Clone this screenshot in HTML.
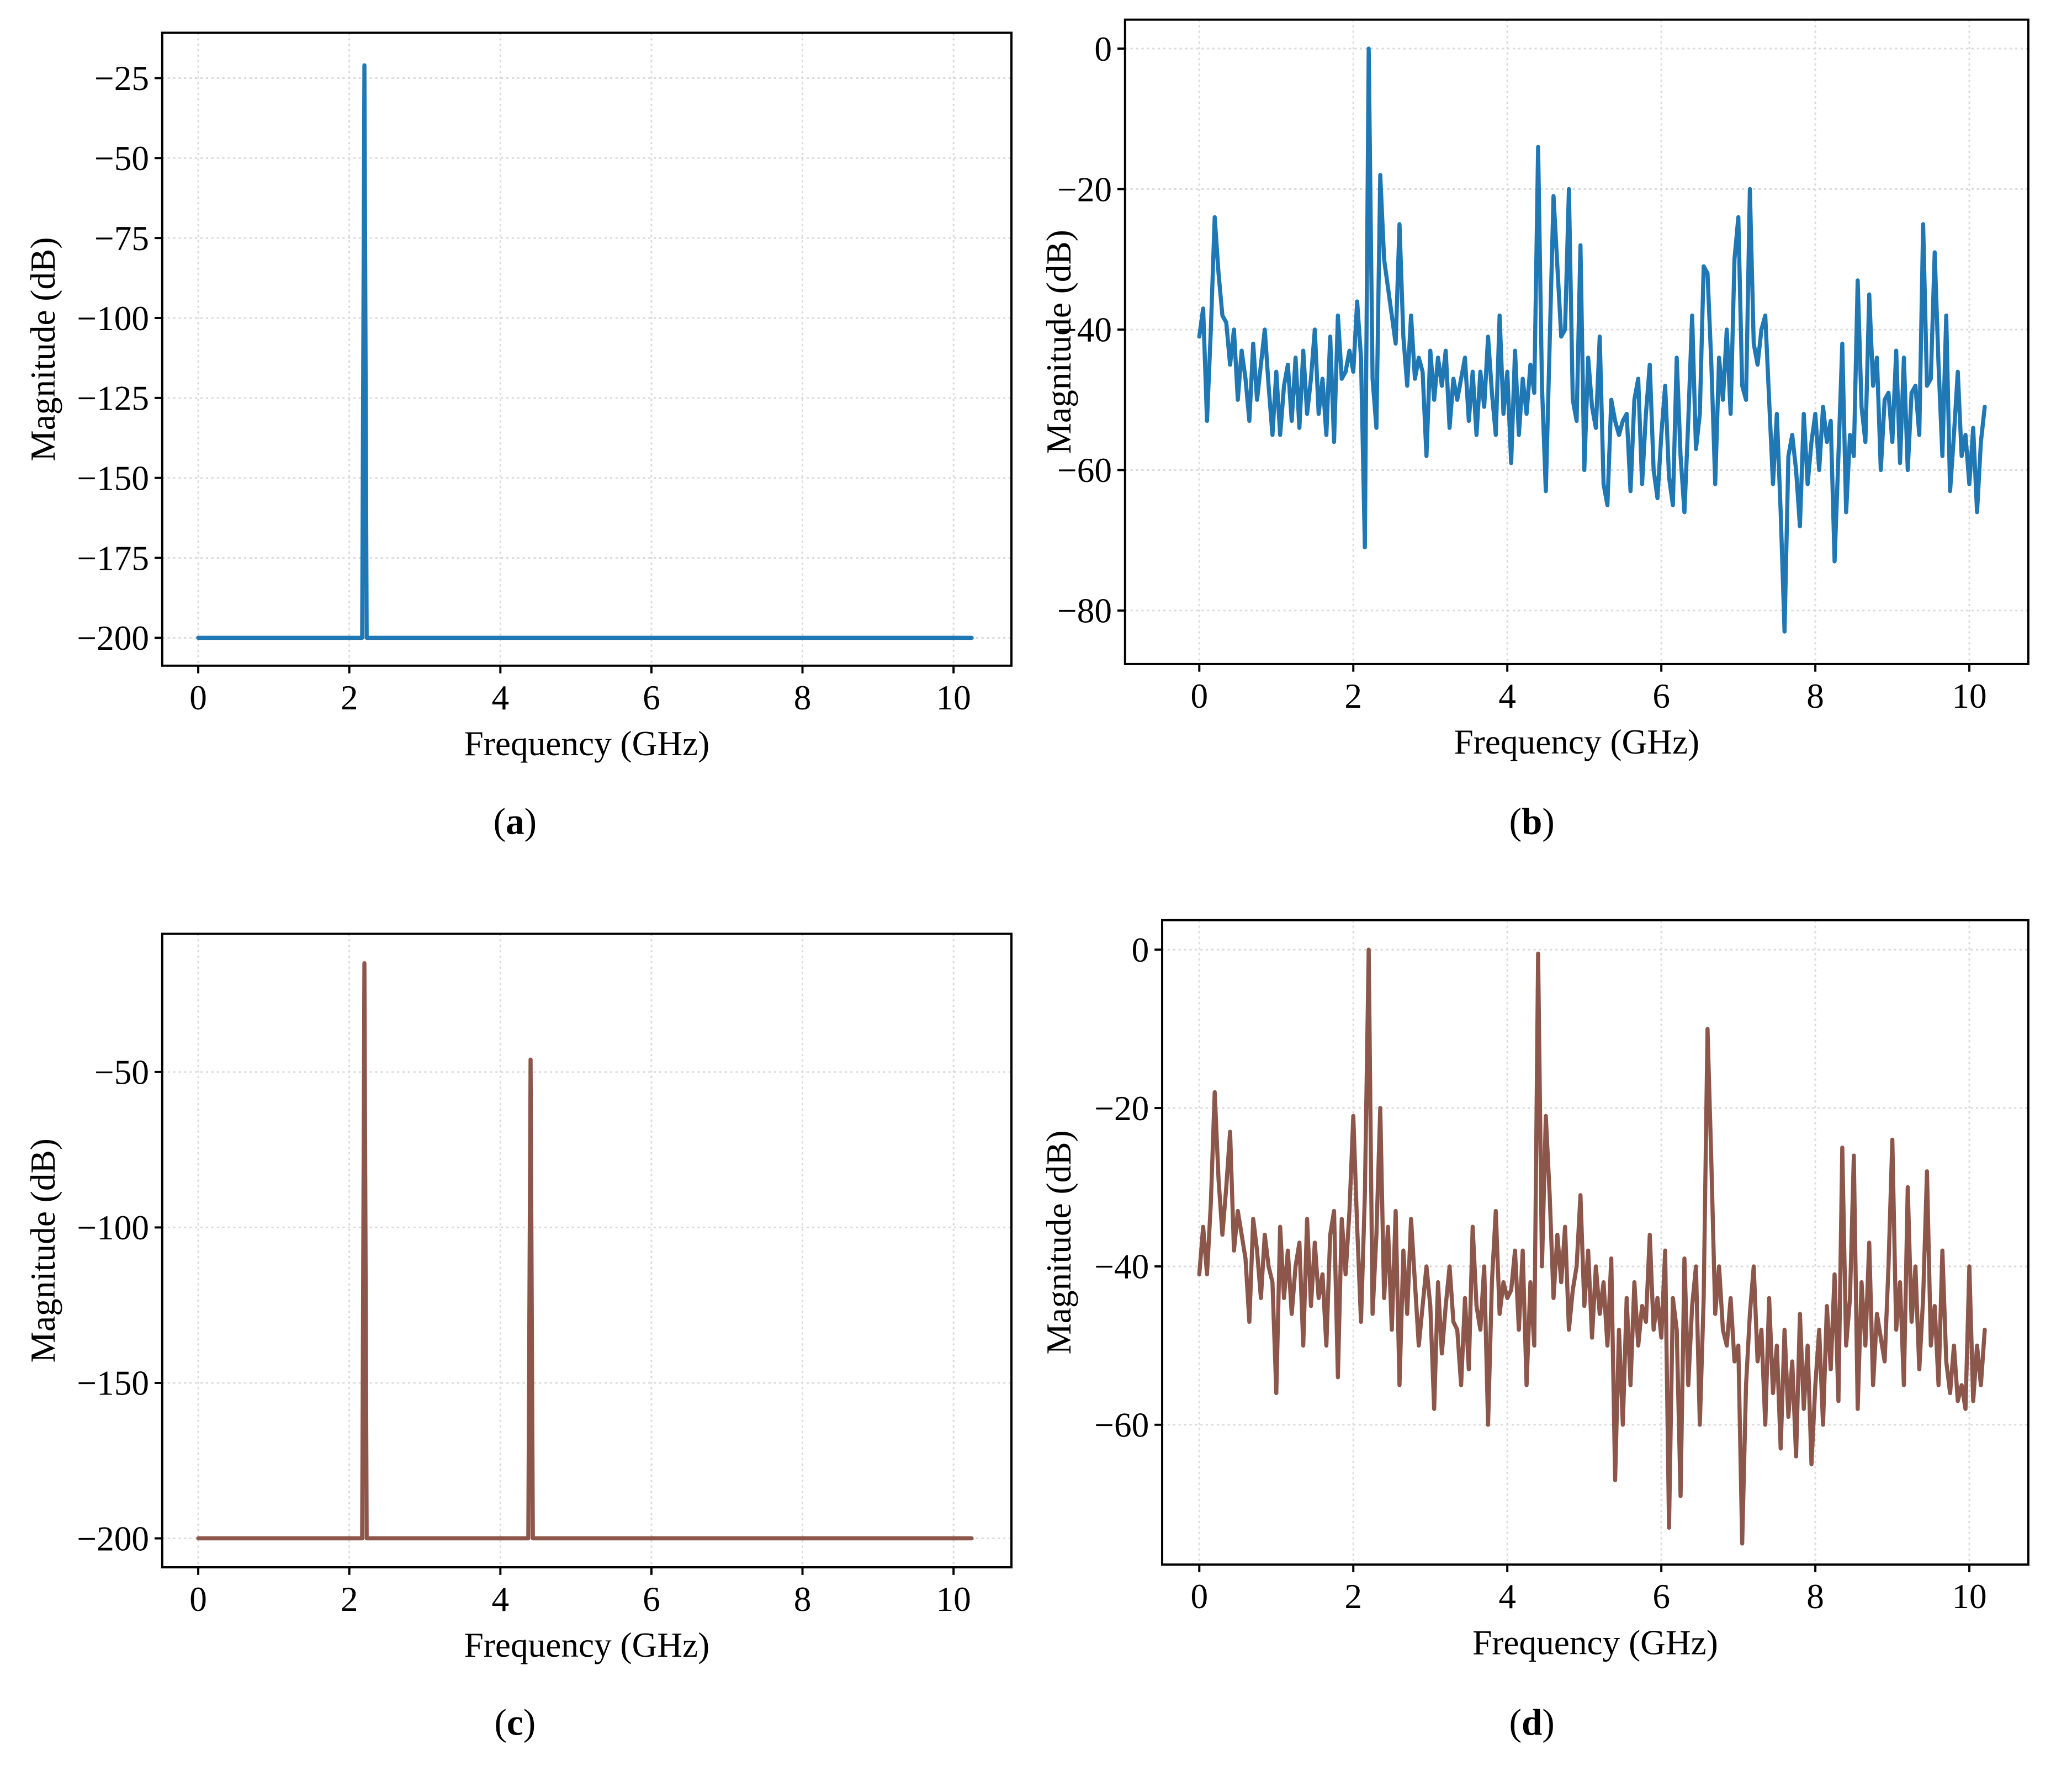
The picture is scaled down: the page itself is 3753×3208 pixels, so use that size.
<!DOCTYPE html>
<html><head><meta charset="utf-8"><style>
html,body{margin:0;padding:0;background:#fff;}
svg{display:block;font-family:"Liberation Serif",serif;}
</style></head><body>
<svg id="fig" width="3753" height="3208" viewBox="0 0 3753 3208" xmlns="http://www.w3.org/2000/svg"><g id="root" transform="scale(0.9892)"></g></svg>
<script>
// ---- data ----
const spikeFreqA = [2.2];
const spikeValA = [-21];
const spikeFreqC = [2.2, 4.4];
const spikeValC = [-15, -46];
const floorDb = -200;
const maxFreq = 10.24;
const seriesB = [
-41,-37,-53,-40,-24,-32,-38,-39,-45,-40,-50,-43,-47,-53,-42,-50,-45,-40,-48,-55,
-46,-55,-48,-45,-53,-44,-54,-43,-52,-47,-40,-52,-47,-55,-41,-56,-38,-47,-46,-43,
-46,-36,-44,-71,0,-47,-54,-18,-30,-34,-38,-42,-25,-41,-48,-38,-47,-44,-46,-58,
-43,-50,-44,-48,-43,-54,-47,-50,-47,-44,-53,-46,-55,-46,-51,-41,-49,-55,-38,-52,
-46,-59,-43,-55,-47,-52,-45,-49,-14,-48,-63,-42,-21,-31,-41,-40,-20,-50,-53,-28,
-60,-44,-51,-54,-41,-62,-65,-50,-53,-55,-53,-52,-63,-50,-47,-62,-52,-45,-60,-64,
-55,-48,-61,-65,-44,-58,-66,-53,-38,-57,-52,-31,-32,-45,-62,-44,-50,-40,-52,-30,
-24,-48,-50,-20,-42,-45,-40,-38,-50,-62,-52,-66,-83,-58,-55,-60,-68,-52,-62,-56,
-52,-60,-51,-56,-53,-73,-58,-42,-66,-55,-58,-33,-51,-56,-35,-48,-44,-60,-50,-49,
-56,-43,-59,-44,-60,-49,-48,-55,-25,-48,-47,-29,-45,-58,-38,-63,-55,-46,-58,-55,
-62,-54,-66,-56,-51];
const seriesD = [
-41,-35,-41,-32,-18,-29,-36,-30,-23,-38,-33,-36,-39,-47,-34,-38,-44,-36,-40,-42,
-56,-35,-44,-38,-46,-40,-37,-50,-34,-45,-37,-44,-41,-50,-36,-33,-54,-34,-41,-33,
-21,-35,-47,-31,0,-46,-36,-20,-44,-35,-48,-33,-55,-38,-46,-34,-42,-50,-45,-40,
-45,-58,-42,-51,-45,-40,-47,-48,-55,-44,-53,-35,-45,-48,-40,-60,-42,-33,-46,-42,
-44,-43,-38,-48,-38,-55,-42,-50,-0.5,-40,-21,-31,-44,-36,-42,-35,-48,-43,-40,-31,
-45,-38,-49,-40,-46,-42,-50,-39,-67,-48,-60,-44,-55,-42,-50,-45,-47,-36,-48,-44,
-49,-38,-73,-44,-48,-69,-39,-55,-45,-40,-60,-44,-10,-27,-46,-40,-48,-50,-44,-52,
-50,-75,-55,-46,-40,-52,-48,-60,-44,-56,-50,-63,-48,-59,-52,-64,-46,-58,-50,-65,
-55,-48,-60,-45,-53,-41,-57,-25,-50,-44,-26,-58,-42,-50,-37,-55,-46,-49,-52,-40,
-24,-48,-42,-55,-30,-47,-40,-53,-44,-28,-50,-45,-55,-38,-52,-56,-50,-57,-55,-58,
-40,-57,-50,-55,-48];
const freqStep = 0.05;
const xTicks = [0,2,4,6,8,10];
const yTicksA = [-25,-50,-75,-100,-125,-150,-175,-200];
const yTicksB = [0,-20,-40,-60,-80];
const yTicksC = [-50,-100,-150,-200];
const yTicksD = [0,-20,-40,-60];

const NS = "http://www.w3.org/2000/svg";
const root = document.getElementById('root');
function el(tag, attrs, parent, text){
  const e = document.createElementNS(NS, tag);
  for (const k in attrs) e.setAttribute(k, attrs[k]);
  if (text !== undefined) e.textContent = text;
  (parent||root).appendChild(e);
  return e;
}
function fmt(v){ return v < 0 ? '\u2212' + Math.abs(v) : String(v); }

function panel(cfg){
  const g = el('g', {});
  
  
  const X = f => cfg.x0 + (cfg.x10 - cfg.x0) * f / 10;
  const Y = v => cfg.ya + (cfg.yb - cfg.ya) * (v - cfg.va) / (cfg.vb - cfg.va);
  xTicks.forEach(t => {
    const l = el('line', {x1:X(t), x2:X(t), y1:cfg.T, y2:cfg.B, stroke:'#d9d9d9', 'stroke-width':3, 'stroke-dasharray':'4 6'}, g);
    
    
  });
  cfg.yTicks.forEach(t => {
    const l = el('line', {x1:cfg.L, x2:cfg.R, y1:Y(t), y2:Y(t), stroke:'#d9d9d9', 'stroke-width':3, 'stroke-dasharray':'4 6'}, g);
    
    
  });
  const p = el('path', {d:cfg.path(X, Y), fill:'none', stroke:cfg.color, 'stroke-width':7.5, 'stroke-linejoin':'round', 'stroke-linecap':'round'}, g);
  
  
  const fr = el('rect', {x:cfg.L, y:cfg.T, width:cfg.R-cfg.L, height:cfg.B-cfg.T, fill:'none', stroke:'#000', 'stroke-width':4}, g);
  
  
  xTicks.forEach(t => {
    el('line', {x1:X(t), x2:X(t), y1:cfg.B, y2:cfg.B+14, stroke:'#000', 'stroke-width':4}, g);
    const tx = el('text', {x:X(t), y:cfg.B+80, 'font-size':64, 'text-anchor':'middle'}, g, fmt(t));
    
    
  });
  cfg.yTicks.forEach(t => {
    el('line', {x1:cfg.L-14, x2:cfg.L, y1:Y(t), y2:Y(t), stroke:'#000', 'stroke-width':4}, g);
    const ty = el('text', {x:cfg.L-24, y:Y(t)+22, 'font-size':64, 'text-anchor':'end'}, g, fmt(t));
    
    
  });
  const xl = el('text', {x:(cfg.L+cfg.R)/2, y:cfg.B+164, 'font-size':64, 'text-anchor':'middle'}, g, 'Frequency (GHz)');
  
  
  const yl = el('text', {x:0, y:0, 'font-size':64, 'text-anchor':'middle', transform:`translate(${cfg.ylx},${(cfg.T+cfg.B)/2}) rotate(-90)`}, g, 'Magnitude (dB)');
  
  
  const cap = el('text', {x:cfg.capX, y:cfg.capY, 'font-size':68, 'text-anchor':'middle'}, g);
  
  
  el('tspan', {}, cap, '(');
  el('tspan', {'font-weight':'bold'}, cap, cfg.letter);
  el('tspan', {}, cap, ')');
}
function spikePath(freqs, vals){
  return (X, Y) => {
    let d = `M${X(0)},${Y(floorDb)}`;
    freqs.forEach((f,i) => {
      d += ` L${X(f-0.03)},${Y(floorDb)} L${X(f)},${Y(vals[i])} L${X(f+0.03)},${Y(floorDb)}`;
    });
    d += ` L${X(maxFreq)},${Y(floorDb)}`;
    return d;
  };
}
function seriesPath(vals){
  return (X, Y) => vals.map((v,i) => (i?'L':'M') + X(i*freqStep) + ',' + Y(v)).join(' ');
}
panel({name:'panel-a', letter:'a', L:297, R:1852, T:60, B:1219, x0:363, x10:1746,
  va:-25, ya:143, vb:-200, yb:1168, yTicks:yTicksA, color:'#1f77b4', ylx:100, capX:943, capY:1527,
  path:spikePath(spikeFreqA, spikeValA)});
panel({name:'panel-b', letter:'b', L:2060, R:3714, T:36, B:1216, x0:2196, x10:3606,
  va:0, ya:89, vb:-80, yb:1118, yTicks:yTicksB, color:'#1f77b4', ylx:1960, capX:2805, capY:1527,
  path:seriesPath(seriesB)});
panel({name:'panel-c', letter:'c', L:297, R:1852, T:1710, B:2870, x0:363, x10:1746,
  va:-50, ya:1963, vb:-200, yb:2817, yTicks:yTicksC, color:'#8c564b', ylx:100, capX:943, capY:3177,
  path:spikePath(spikeFreqC, spikeValC)});
panel({name:'panel-d', letter:'d', L:2128, R:3714, T:1685, B:2865, x0:2196, x10:3606,
  va:0, ya:1739, vb:-60, yb:2609, yTicks:yTicksD, color:'#8c564b', ylx:1960, capX:2805, capY:3177,
  path:seriesPath(seriesD)});
</script>
</body></html>
